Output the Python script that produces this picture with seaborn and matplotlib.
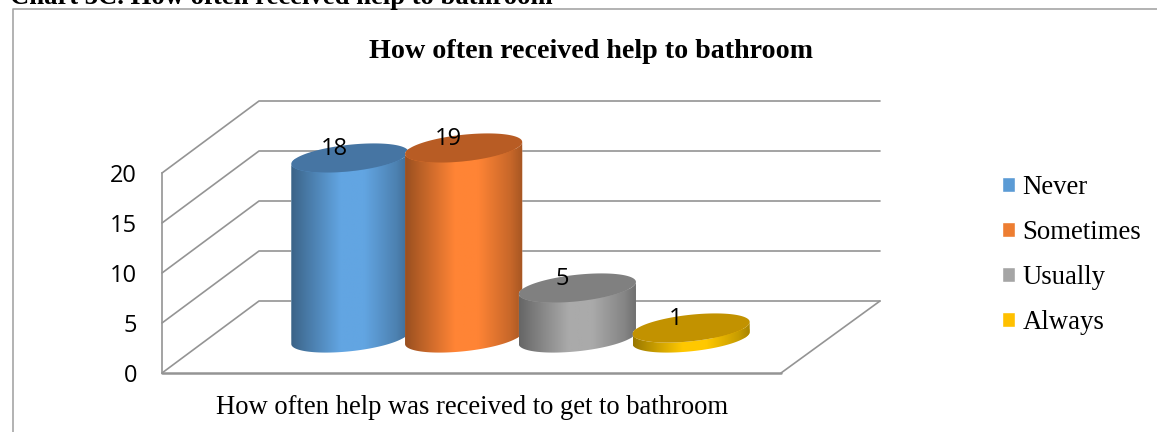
import matplotlib
matplotlib.use('Agg')
import matplotlib.pyplot as plt
import numpy as np
import seaborn as sns
from matplotlib.colors import to_rgb
from matplotlib.lines import Line2D
from matplotlib.path import Path
from matplotlib.patches import PathPatch

# data
categories = ['Never', 'Sometimes', 'Usually', 'Always']
values = [18, 19, 5, 1]
colors = ['#5B9BD5', '#ED7D31', '#A5A5A5', '#FFC000']
mid_colors = ['#62A5E2', '#FF8435', '#AAAAAA', '#FFC800']
cap_colors = ['#4675A3', '#B85C24', '#808080', '#C29200']
y_ticks = [0, 5, 10, 15, 20]

W, H = 1157, 432
LINE = '#949494'

sns.set_style('white')
plt.rcParams['font.family'] = ['Liberation Serif', 'DejaVu Sans']
plt.rcParams['text.color'] = 'black'
plt.rcParams['ytick.color'] = 'black'

fig = plt.figure(figsize=(W / 100, H / 100), dpi=100)


def box(left, top, right, bottom):
    return [left / W, 1 - bottom / H, (right - left) / W, (bottom - top) / H]


# chart frame, only left and top edge are in the crop
fig.add_artist(Line2D([13 / W, 13 / W, 1], [0, 1 - 9 / H, 1 - 9 / H], color='#A6A6A6', lw=1.2))
fig.text(10 / W, 1 - 4 / H, 'Chart 3C. How often received help to bathroom', fontsize=19.2,
         fontweight='bold', ha='left', va='baseline')
fig.text(591 / W, 1 - 51 / H, 'How often received help to bathroom', fontsize=20.2,
         fontweight='bold', ha='center', va='center')
fig.text(472 / W, 1 - 407 / H, 'How often help was received to get to bathroom', fontsize=19.2,
         ha='center', va='center')

# walls and floor, x in pixels and y in chart units
wall_ax = fig.add_axes(box(162, 173, 880, 373))
wall_ax.set_xlim(162, 880)
wall_ax.set_ylim(0, 20)
wall_ax.patch.set_visible(False)
sns.despine(ax=wall_ax, top=True, right=True, bottom=True, left=False)
wall_ax.spines['left'].set_color(LINE)
wall_ax.spines['left'].set_linewidth(1.2)
wall_ax.set_xticks([])
wall_ax.set_yticks(y_ticks)
wall_ax.tick_params(axis='y', length=0, pad=18)
for lab in wall_ax.get_yticklabels():
    lab.set_fontfamily('Open Sans')
    lab.set_fontsize(17)
depth = 7.2
for t in y_ticks:
    wall_ax.plot([162, 259, 880], [t, t + depth, t + depth], color=LINE, lw=1.2, clip_on=False)
wall_ax.plot([781, 880], [0, depth], color=LINE, lw=1.2, clip_on=False)
wall_ax.plot([162, 781], [0, 0], color=LINE, lw=1.8, clip_on=False)

# bars, the axes is a bit larger than the bars so the round bottoms are not cut
bar_ax = fig.add_axes(box(281, 118, 762, 374))
sns.barplot(x=categories, y=values, hue=categories, order=categories, hue_order=categories,
            palette=colors, saturation=1, dodge=False, width=1.03, legend=True, ax=bar_ax)
xlim = (-0.5 - 12 / 113.75, 3.5 + 14 / 113.75)
ylim = (-3.6, 22)
bar_ax.axis('off')
bar_ax.patch.set_visible(False)

# cap ellipse sizes in axes units: 10 px per value
cap_b = 13.3 / 10
cap_s = 6 / 10
t_low = np.linspace(np.pi, 2 * np.pi, 60)
t_up = np.linspace(0, np.pi, 60)
bars = [p for p in bar_ax.patches if p.get_height() > 0]
bars = sorted(bars, key=lambda p: p.get_x())

for i, bar in enumerate(bars):
    x0 = bar.get_x()
    w = bar.get_width()
    v = bar.get_height()
    cx = x0 + w / 2
    a = w / 2

    def edge(level, t):
        return cx + a * np.cos(t), level + cap_b * np.sin(t) + cap_s * np.cos(t)

    bx, by = edge(0, t_low)
    tx, ty = edge(v, t_up)
    rx, ry = edge(v, t_low)

    whole = np.column_stack([np.r_[bx, tx, bx[:1]], np.r_[by, ty, by[:1]]])
    body_patch = PathPatch(Path(whole), transform=bar_ax.transData, fc='none', ec='none')
    bar_ax.add_patch(body_patch)
    bar.set_clip_path(body_patch)
    bar.set_zorder(2 + i)

    # side shading, dark at both edges
    mid = np.array(to_rgb(mid_colors[i]))
    stops = np.interp(np.linspace(0, 1, 128), [0, 0.12, 0.42, 0.62, 0.9, 1], [0.6, 0.72, 1, 1, 0.78, 0.65])
    grad = (mid[None, :] * stops[:, None])[None, :, :]
    img = bar_ax.imshow(grad, extent=[x0, x0 + w, -2, v + 2], aspect='auto', zorder=2 + i + 0.1,
                        interpolation='bilinear')
    clip = PathPatch(Path(np.column_stack([np.r_[bx, rx[::-1], bx[:1]], np.r_[by, ry[::-1], by[:1]]])),
                     transform=bar_ax.transData, fc='none', ec='none')
    bar_ax.add_patch(clip)
    img.set_clip_path(clip)

    # top of the cylinder
    cx_all, cy_all = edge(v, np.linspace(0, 2 * np.pi, 120))
    bar_ax.fill(cx_all, cy_all, color=cap_colors[i], lw=0, zorder=2 + i + 0.2, clip_on=False)

    bar_ax.annotate(str(values[i]), (cx, v), xytext=(-11, 6.5), textcoords='offset points', ha='center',
                    va='center', fontsize=17, family='Open Sans', zorder=10, annotation_clip=False)

bar_ax.set_xlim(*xlim)
bar_ax.set_ylim(*ylim)

sns.move_legend(bar_ax, 'center left', bbox_to_anchor=(1002 / W, 1 - 255 / H), bbox_transform=fig.transFigure,
                frameon=False, title=None, fontsize=19.3, labelspacing=0.745, handlelength=0.5, handleheight=0.5,
                handletextpad=0.26, borderaxespad=0, borderpad=0)

plt.savefig('out.png', dpi=100)
